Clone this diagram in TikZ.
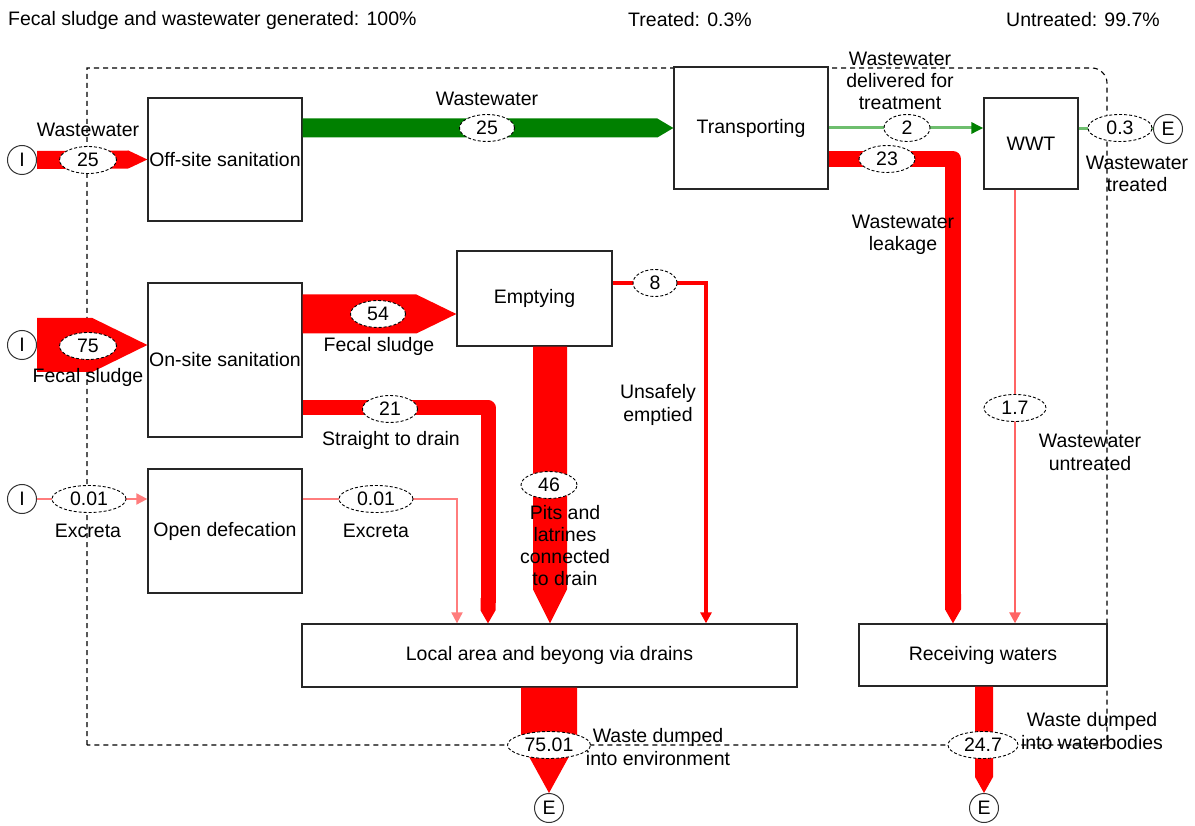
\documentclass[tikz,border=0pt]{standalone}
\usepackage{fontspec}
\setmainfont{Liberation Sans}
\usetikzlibrary{arrows.meta,shapes.geometric,calc}
\definecolor{bandred}{RGB}{255,0,0}
\definecolor{bandgreen}{RGB}{0,128,0}
\definecolor{lightgreen}{RGB}{110,190,110}
\definecolor{pinkline}{RGB}{255,125,125}
\definecolor{lightred}{RGB}{255,100,100}
\begin{document}
\begin{tikzpicture}[x=1pt,y=-1pt,
  font=\fontsize{19.5}{22.3}\selectfont,
  box/.style={draw=black!85,line width=1.3pt,fill=white,inner sep=0pt,align=center},
  val/.style={ellipse,draw=black,dash pattern=on 3pt off 2pt,line width=0.9pt,fill=white,inner sep=0pt,minimum height=27pt},
  io/.style={circle,draw=black!80,line width=1pt,fill=white,minimum size=29pt,inner sep=0pt},
  lab/.style={align=center,inner sep=0pt},
  hband/.style 2 args={to path={($(\tikztostart)+(0,-#1/2)$) -- ($(\tikztotarget)+(-#2,-#1/2)$) -- (\tikztotarget) -- ($(\tikztotarget)+(-#2,#1/2)$) -- ($(\tikztostart)+(0,#1/2)$) -- cycle}},
  vband/.style 2 args={to path={($(\tikztostart)+(-#1/2,0)$) -- ($(\tikztotarget)+(-#1/2,-#2)$) -- (\tikztotarget) -- ($(\tikztotarget)+(#1/2,-#2)$) -- ($(\tikztostart)+(#1/2,0)$) -- cycle}},
  thinarrow/.style={-{Triangle[length=11pt,width=11pt]}},
  boundary/.style={draw=black,line width=1.1pt,dash pattern=on 5pt off 4pt}
]
\useasboundingbox (0,0) rectangle (1195,826);

% system boundary
\draw[boundary] (87,745) -- (87,68) -- (1092,68) .. controls (1100,68) and (1107,75) .. (1107,83) -- (1107,745) -- cycle;

% top texts
\node[anchor=west,inner sep=0pt] (ttot) at (8,20) {Fecal sludge and wastewater generated: 100\%};
\node[inner sep=0pt] (ttreat) at (690,20) {Treated: 0.3\%};
\node[inner sep=0pt] (tuntreat) at (1083,20) {Untreated: 99.7\%};

% processes
\node[box,minimum width=154pt,minimum height=123pt] (offsite) at (225,159.5) {Off-site sanitation};
\node[box,minimum width=154pt,minimum height=154pt] (onsite) at (225,360) {On-site sanitation};
\node[box,minimum width=154pt,minimum height=124pt] (opendef) at (225,531) {Open defecation};
\node[box,minimum width=155pt,minimum height=95pt] (emptying) at (534.5,298.5) {Emptying};
\node[box,minimum width=154pt,minimum height=122pt] (transport) at (751,128) {Transporting};
\node[box,minimum width=94pt,minimum height=91pt] (wwt) at (1031,143.5) {WWT};
\node[box,minimum width=495pt,minimum height=63pt] (local) at (549.5,655.5) {Local area and beyong via drains};
\node[box,minimum width=248pt,minimum height=62pt] (recv) at (983,655) {Receiving waters};

% inputs / exports
\node[io] (i1) at (22,160) {I};
\node[io] (i2) at (22,345) {I};
\node[io] (i3) at (22,499) {I};
\node[io] (e1) at (1168,129) {E};
\node[io] (e2) at (549,808) {E};
\node[io] (e3) at (984,808) {E};

% helper coordinates
\coordinate (y54) at (0,314);
\coordinate (c21) at (488,408);
\coordinate (x46) at (550,0);
\coordinate (k8) at (706,283);
\coordinate (k001) at (457,499);
\coordinate (c23) at (953,159);
\coordinate (x17) at (1015,0);

% flows
\fill[bandred] (i1.east) to[hband={18}{19}] (offsite.west);
\fill[bandred] (i2.east) to[hband={54}{55}] (i2.east -| onsite.west);
\draw[pinkline,line width=2pt,thinarrow] (i3.east) -- (i3.east -| opendef.west);
\fill[bandgreen] (offsite.east |- transport.west) to[hband={19}{16}] (transport.west);
\fill[bandred] (onsite.east |- y54) to[hband={39}{40}] (emptying.west |- y54);
\draw[bandred,line width=15pt,line join=round] (onsite.east |- c21) -- (c21) -- ($(c21)+(0,195)$);
\fill[bandred] ($(c21)+(0,190)$) to[vband={15}{13}] (c21 |- local.north);
\fill[bandred] (emptying.south -| x46) to[vband={34}{34}] (local.north -| x46);
\draw[bandred,line width=4.5pt,thinarrow] (emptying.east |- k8) -- (k8) -- (k8 |- local.north);
\draw[pinkline,line width=2pt,thinarrow] (opendef.east |- k001) -- (k001) -- (k001 |- local.north);
\draw[lightgreen,line width=3pt,-{Triangle[length=12pt,width=11pt,color=bandgreen]}] (transport.east) -- (wwt.west |- transport.east);
\draw[bandred,line width=16pt,line join=round] (transport.east |- c23) -- (c23) -- ($(c23)+(0,440)$);
\fill[bandred] ($(c23)+(0,435)$) to[vband={16}{14}] (c23 |- recv.north);
\draw[lightred,line width=2.5pt,thinarrow] (wwt.south -| x17) -- (recv.north -| x17);
\draw[lightgreen,line width=3pt] (wwt.east |- e1.west) -- (e1.west);
\fill[bandred] (local.south -| e2) to[vband={56}{51}] (e2.north);
\fill[bandred] (recv.south -| e3) to[vband={18}{16}] (e3.north);

% flow values
\node[val,minimum width=57pt] (v1) at (88,160) {25};
\node[val,minimum width=57pt] (v2) at (88,346) {75};
\node[val,minimum width=74pt] (v3) at (89,499) {0.01};
\node[val,minimum width=55pt] (v4) at (487,128) {25};
\node[val,minimum width=55pt] (v5) at (378,314) {54};
\node[val,minimum width=55pt] (v6) at (390,409) {21};
\node[val,minimum width=56pt] (v7) at (549,485) {46};
\node[val,minimum width=44pt] (v8) at (655,283) {8};
\node[val,minimum width=74pt] (v9) at (376,499) {0.01};
\node[val,minimum width=46pt] (v10) at (907,128) {2};
\node[val,minimum width=56pt] (v11) at (887,159) {23};
\node[val,minimum width=62pt] (v12) at (1015,408) {1.7};
\node[val,minimum width=64pt] (v13) at (1120,128) {0.3};
\node[val,minimum width=83pt] (v14) at (549,745) {75.01};
\node[val,minimum width=70pt] (v15) at (983,745) {24.7};

% flow labels
\node[lab] (l1) at (88,130) {Wastewater};
\node[lab] (l2) at (88,377) {Fecal sludge};
\node[lab] (l3) at (88,531) {Excreta};
\node[lab] (l4) at (487,99) {Wastewater};
\node[lab] (l5) at (379,346) {Fecal sludge};
\node[lab] (l6) at (391,440) {Straight to drain};
\node[lab] (l7) at (565,545.5) {Pits and\\latrines\\connected\\to drain};
\node[lab] (l8) at (658,405) {Unsafely\\emptied};
\node[lab] (l9) at (376,531) {Excreta};
\node[lab] (l10) at (900,81) {Wastewater\\delivered for\\treatment};
\node[lab] (l11) at (903,235) {Wastewater\\leakage};
\node[lab] (l12) at (1090,452.5) {Wastewater\\untreated};
\node[lab] (l13) at (1137,174) {Wastewater\\treated};
\node[lab] (l14) at (658,747) {Waste dumped\\into environment};
\node[lab] (l15) at (1092,731) {Waste dumped\\into waterbodies};
\end{tikzpicture}
\end{document}
